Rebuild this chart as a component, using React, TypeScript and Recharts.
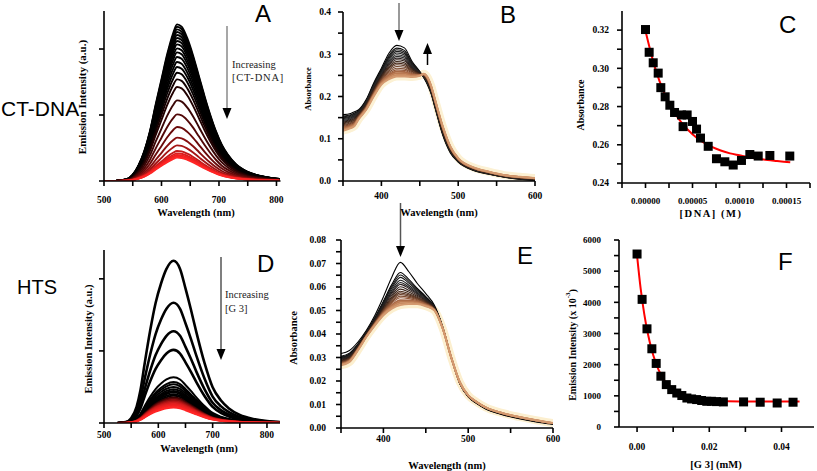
import React from 'react';
import { LineChart, Line, XAxis, YAxis, ComposedChart, Scatter } from 'recharts';

const SERIF = '"Liberation Serif", "Times New Roman", serif';
const SANS = '"Liberation Sans", Arial, sans-serif';

// ---------- Panel A : emission spectra, CT-DNA ----------
const aWavelengths = [500, 520, 540, 550, 560, 570, 580, 590, 600, 610, 620, 627, 635, 645, 655, 665, 675, 685, 695, 705, 715, 730, 750, 770, 790, 805];
const aShape = [0, 0.001, 0.012, 0.04, 0.1, 0.19, 0.32, 0.49, 0.65, 0.81, 0.94, 1.0, 0.985, 0.91, 0.8, 0.67, 0.54, 0.42, 0.315, 0.23, 0.17, 0.105, 0.058, 0.034, 0.02, 0.013];
const aPeaks = [2.374, 2.338, 2.298, 2.258, 2.212, 2.167, 2.121, 2.071, 2.01, 1.949, 1.879, 1.803, 1.727, 1.641, 1.54, 1.424, 1.222, 1.01, 0.818, 0.657, 0.54, 0.455, 0.419, 0.394, 0.374, 0.354];
const aColors = ['#000', '#000', '#000', '#000', '#000', '#000', '#000', '#000', '#000', '#000', '#000', '#000', '#000', '#050000', '#120000', '#220202', '#3a0606', '#520808', '#6a0b0b', '#861010', '#a51515', '#c41a1a', '#dc1e1e', '#ec2020', '#f62222', '#ff2626'];
const aXTicks = [500, 550, 600, 650, 700, 750, 800];
const aYTicks = [0, 1, 2];

// ---------- Panel B : absorbance, CT-DNA ----------
const bWavelengths = [350, 360, 365, 370, 380, 390, 400, 410, 420, 430, 440, 450, 455, 460, 465, 470, 480, 490, 500, 520, 540, 560, 580, 600];
const bFirst = [0.157, 0.16, 0.164, 0.168, 0.192, 0.232, 0.267, 0.303, 0.321, 0.315, 0.283, 0.259, 0.245, 0.228, 0.205, 0.172, 0.108, 0.066, 0.045, 0.025, 0.016, 0.009, 0.004, 0.002];
const bLast = [0.119, 0.125, 0.13, 0.145, 0.168, 0.2, 0.228, 0.241, 0.2475, 0.2475, 0.246, 0.249, 0.254, 0.246, 0.224, 0.192, 0.129, 0.081, 0.054, 0.032, 0.022, 0.014, 0.01, 0.007];
const bPeaks = [0.321, 0.3146, 0.3107, 0.3067, 0.3028, 0.2988, 0.2949, 0.2909, 0.287, 0.283, 0.279, 0.275, 0.271, 0.267, 0.263, 0.259, 0.255, 0.251, 0.2475];
const bColors = ['#000', '#111', '#161616', '#1c1c1c', '#222', '#262626', '#2a2a2a', '#2a2020', '#2e1e18', '#3a2418', '#4a2c1c', '#5a3522', '#6c4029', '#7e4c31', '#94593a', '#a86845', '#bb7a52', '#c98b61', '#d49a70'];
const bXTicks = [350, 400, 450, 500, 550, 600];
const bYTicks = [0, 0.05, 0.1, 0.15, 0.2, 0.25, 0.3, 0.35, 0.4];

// ---------- Panel C : absorbance vs [DNA] ----------
const cX = [0, 0.0000039, 0.0000082, 0.0000135, 0.0000163, 0.0000209, 0.0000259, 0.0000309, 0.00004, 0.0000383, 0.0000443, 0.00005, 0.0000543, 0.0000585, 0.0000667, 0.0000755, 0.0000844, 0.0000933, 0.0001021, 0.000111, 0.0001199, 0.0001323, 0.0001535];
const cY = [0.3203, 0.3084, 0.3029, 0.2975, 0.2899, 0.2851, 0.2807, 0.2769, 0.2695, 0.2756, 0.2756, 0.2722, 0.2682, 0.2635, 0.2592, 0.2527, 0.2511, 0.2494, 0.2518, 0.2549, 0.2541, 0.2544, 0.2541];
const cFitX = [0, 0.00001, 0.00002, 0.00003, 0.00004, 0.00005, 0.00006, 0.00007, 0.00008, 0.00009, 0.0001, 0.00011, 0.00012, 0.00013, 0.00014, 0.000154];
const cFitY = [0.3195, 0.3005, 0.287, 0.2775, 0.2705, 0.2655, 0.2617, 0.259, 0.257, 0.2555, 0.2545, 0.2535, 0.2527, 0.252, 0.2515, 0.2508];
const cXTicks = [-0.000025, 0, 0.000025, 0.00005, 0.000075, 0.0001, 0.000125, 0.00015, 0.000175];
const cXLabels = [0, 0.00005, 0.0001, 0.00015];
const cYTicks = [0.24, 0.25, 0.26, 0.27, 0.28, 0.29, 0.3, 0.31, 0.32];
const cYLabels = [0.24, 0.26, 0.28, 0.3, 0.32];

// ---------- Panel D : emission spectra, HTS ----------
const dWavelengths = [525, 540, 550, 560, 567, 575, 585, 595, 605, 615, 628, 640, 650, 660, 670, 685, 700, 715, 730, 750, 775, 800, 825];
const dShape = [0, 0.006, 0.03, 0.1, 0.2, 0.37, 0.57, 0.74, 0.86, 0.95, 1.0, 0.95, 0.83, 0.7, 0.56, 0.37, 0.22, 0.14, 0.09, 0.05, 0.025, 0.012, 0.006];
const dPeaks = [2.25, 1.668, 1.273, 1.014, 0.636, 0.568, 0.536, 0.5, 0.468, 0.445, 0.423, 0.4, 0.377, 0.355, 0.336, 0.318, 0.3, 0.282, 0.264, 0.245, 0.227, 0.214];
const dColors = ['#000', '#000', '#000', '#000', '#000', '#000', '#000', '#000', '#000', '#000', '#000', '#000', '#000', '#300', '#5a0808', '#8a0e0e', '#b01414', '#cc1a1a', '#e01e1e', '#ee2020', '#f82222', '#ff2626'];
const dXTicks = [500, 550, 600, 650, 700, 750, 800];
const dYTicks = [0, 1, 2];

// ---------- Panel E : absorbance, HTS ----------
const eWavelengths = [350, 360, 370, 380, 390, 400, 410, 420, 430, 440, 450, 460, 470, 480, 490, 500, 510, 520, 540, 560, 580, 600];
const eFirst = [0.0317, 0.033, 0.0366, 0.0416, 0.048, 0.0558, 0.0643, 0.0705, 0.0665, 0.0615, 0.0572, 0.0523, 0.043, 0.03, 0.0189, 0.0132, 0.0104, 0.0082, 0.0057, 0.004, 0.0026, 0.0016];
const eLast = [0.0267, 0.0281, 0.0331, 0.0388, 0.0437, 0.048, 0.0508, 0.0523, 0.0527, 0.0527, 0.0518, 0.0501, 0.0423, 0.03, 0.0196, 0.0139, 0.0111, 0.0089, 0.0064, 0.0047, 0.0033, 0.0021];
const ePeaks = [0.0705, 0.0662, 0.0651, 0.0641, 0.0629, 0.0619, 0.0611, 0.0601, 0.0591, 0.0582, 0.0575, 0.0568, 0.0561, 0.0554, 0.0544, 0.0537, 0.053, 0.0523];
const eColors = ['#000', '#000', '#111', '#161616', '#1c1c1c', '#222', '#2a2020', '#2e1e18', '#3a2418', '#4a2c1c', '#5a3522', '#6c4029', '#7e4c31', '#94593a', '#a86845', '#bb7a52', '#c98b61', '#d49a70'];
const eXTicks = [350, 400, 450, 500, 550, 600];
const eYTicks = [0, 0.005, 0.01, 0.015, 0.02, 0.025, 0.03, 0.035, 0.04, 0.045, 0.05, 0.055, 0.06, 0.065, 0.07, 0.075, 0.08];

// ---------- Panel F : emission vs [G3] ----------
const fX = [0, 0.0014, 0.00275, 0.0041, 0.0053, 0.0066, 0.0081, 0.0096, 0.011, 0.0124, 0.0138, 0.0151, 0.0165, 0.0179, 0.0193, 0.0206, 0.022, 0.0239, 0.0295, 0.0341, 0.0388, 0.0432];
const fY = [5550, 4095, 3150, 2510, 2040, 1630, 1360, 1200, 1090, 1010, 930, 900, 880, 850, 825, 825, 815, 805, 805, 795, 770, 795];
const fFitX = [0, 0.001, 0.002, 0.003, 0.004, 0.005, 0.006, 0.007, 0.008, 0.009, 0.01, 0.012, 0.014, 0.016, 0.018, 0.02, 0.025, 0.03, 0.035, 0.04, 0.045];
const fFitY = [5500, 4440, 3620, 2990, 2500, 2120, 1825, 1600, 1420, 1285, 1180, 1035, 950, 897, 866, 848, 828, 822, 821, 820, 820];
const fXTicks = [0, 0.01, 0.02, 0.03, 0.04];
const fXLabels = [0, 0.02, 0.04];
const fYTicks = [0, 500, 1000, 1500, 2000, 2500, 3000, 3500, 4000, 4500, 5000, 5500, 6000];

// ---------- helpers ----------
const YW = 50, XH = 30, MT = 6, MR = 12;
const axisLineStyle = { stroke: '#000', strokeWidth: 1.6 };
const tickFont = { fontSize: 9.5, fontFamily: SERIF, fontWeight: 700, fill: '#000' };

function scaledRows(xs: number[], shape: number[], peaks: number[]) {
  return xs.map((w, i) => {
    const row: Record<string, number> = { x: w };
    peaks.forEach((p, j) => { row['c' + j] = shape[i] * p; });
    return row;
  });
}

function mixedRows(xs: number[], first: number[], last: number[], peaks: number[], refIdx: number) {
  const hi = first[refIdx], lo = last[refIdx];
  return xs.map((w, i) => {
    const row: Record<string, number> = { x: w, glow: last[i] };
    peaks.forEach((p, j) => {
      const f = (hi - p) / (hi - lo);
      row['c' + j] = first[i] * (1 - f) + last[i] * f;
    });
    return row;
  });
}

function near(v: number, list: number[]) {
  return list.some((l) => Math.abs(l - v) < 1e-9);
}

type PanelProps = { l: number; t: number; r: number; b: number; children: (w: number, h: number) => React.ReactNode };
function Panel({ l, t, r, b, children }: PanelProps) {
  const w = r - l + YW + MR;
  const h = b - t + MT + XH;
  return <div style={{ position: 'absolute', left: l - YW, top: t - MT, width: w, height: h }}>{children(w, h)}</div>;
}

const margin = { top: MT, right: MR, left: 0, bottom: 0 };

const aRows = scaledRows(aWavelengths, aShape, aPeaks);
const dRows = scaledRows(dWavelengths, dShape, dPeaks);
const bRows = mixedRows(bWavelengths, bFirst, bLast, bPeaks, 8);
const eRows = mixedRows(eWavelengths, eFirst, eLast, ePeaks, 7);
const cPoints = cX.map((x, i) => ({ x, y: cY[i] }));
const cFit = cFitX.map((x, i) => ({ x, y: cFitY[i] }));
const fPoints = fX.map((x, i) => ({ x, y: fY[i] }));
const fFit = fFitX.map((x, i) => ({ x, y: fFitY[i] }));

const square = (size: number) => (props: any) => (
  <rect x={props.cx - size / 2} y={props.cy - size / 2} width={size} height={size} fill="#000" />
);

function Arrow({ x, y1, y2, line, up }: { x: number; y1: number; y2: number; line: string; up?: boolean }) {
  const hl = 11, hw = 4.5;
  if (up) {
    return (
      <g>
        <line x1={x} y1={y1} x2={x} y2={y2 + hl} stroke={line} strokeWidth={1.5} />
        <polygon points={`${x - hw},${y2 + hl} ${x + hw},${y2 + hl} ${x},${y2}`} fill="#000" />
      </g>
    );
  }
  return (
    <g>
      <line x1={x} y1={y1} x2={x} y2={y2 - hl} stroke={line} strokeWidth={1.5} />
      <polygon points={`${x - hw},${y2 - hl} ${x + hw},${y2 - hl} ${x},${y2}`} fill="#000" />
    </g>
  );
}

function YTitle({ x, y, size, children }: { x: number; y: number; size: number; children: React.ReactNode }) {
  return (
    <text x={x} y={y} transform={`rotate(-90 ${x} ${y})`} textAnchor="middle" dominantBaseline="central" fontFamily={SERIF} fontWeight={700} fontSize={size} fill="#000">
      {children}
    </text>
  );
}

function XTitle({ x, y, size, spacing, children }: { x: number; y: number; size: number; spacing?: number; children: React.ReactNode }) {
  return (
    <text x={x} y={y} textAnchor="middle" dominantBaseline="central" fontFamily={SERIF} fontWeight={700} fontSize={size} letterSpacing={spacing || 0} fill="#000">
      {children}
    </text>
  );
}

export default function App() {
  return (
    <div style={{ position: 'absolute', left: 0, top: 0, width: 817, height: 471, overflow: 'hidden', background: '#fff' }}>
      {/* A */}
      <Panel l={103.5} t={11} r={280} b={181}>
        {(w, h) => (
          <LineChart width={w} height={h} data={aRows} margin={margin}>
            <XAxis type="number" dataKey="x" domain={[500, 807]} ticks={aXTicks} interval={0} allowDataOverflow height={XH}
              tickFormatter={(v: number) => (v % 100 === 0 ? String(v) : '')} tickSize={5} tickMargin={10}
              axisLine={axisLineStyle} tickLine={axisLineStyle} tick={tickFont} />
            <YAxis type="number" domain={[0, 2.576]} ticks={aYTicks} interval={0} allowDataOverflow width={YW}
              tickFormatter={() => ''} tickSize={5} axisLine={axisLineStyle} tickLine={axisLineStyle} tick={tickFont} />
            {aPeaks.map((_, j) => (
              <Line key={j} dataKey={'c' + j} type="monotone" stroke={aColors[j]} strokeWidth={1.9} dot={false} isAnimationActive={false} />
            ))}
          </LineChart>
        )}
      </Panel>

      {/* B */}
      <Panel l={343} t={12} r={535} b={181}>
        {(w, h) => (
          <LineChart width={w} height={h} data={bRows} margin={margin}>
            <XAxis type="number" dataKey="x" domain={[350, 600]} ticks={bXTicks} interval={0} allowDataOverflow height={XH}
              tickFormatter={(v: number) => (v % 100 === 0 ? String(v) : '')} tickSize={5} tickMargin={6}
              axisLine={axisLineStyle} tickLine={axisLineStyle} tick={tickFont} />
            <YAxis type="number" domain={[0, 0.4]} ticks={bYTicks} interval={0} allowDataOverflow width={YW}
              tickFormatter={(v: number) => (near(v, [0, 0.1, 0.2, 0.3, 0.4]) ? v.toFixed(1) : '')} tickSize={5} tickMargin={7}
              axisLine={axisLineStyle} tickLine={axisLineStyle} tick={tickFont} />
            <Line dataKey="glow" type="monotone" stroke="#fcf1d4" strokeWidth={8} dot={false} isAnimationActive={false} />
            {bPeaks.map((_, j) => (
              <Line key={j} dataKey={'c' + j} type="monotone" stroke={bColors[j]} strokeWidth={j > 14 ? 1.9 : 1.1} dot={false} isAnimationActive={false} />
            ))}
          </LineChart>
        )}
      </Panel>

      {/* C */}
      <Panel l={622} t={11} r={810} b={183}>
        {(w, h) => (
          <ComposedChart width={w} height={h} margin={margin}>
            <XAxis type="number" dataKey="x" domain={[-0.000025, 0.000175]} ticks={cXTicks} interval={0} allowDataOverflow height={XH}
              tickFormatter={(v: number) => (near(v, cXLabels) ? v.toFixed(5) : '')} tickSize={5} tickMargin={10}
              axisLine={axisLineStyle} tickLine={axisLineStyle} tick={{ ...tickFont, fontSize: 9 }} />
            <YAxis type="number" dataKey="y" domain={[0.24, 0.33]} ticks={cYTicks} interval={0} allowDataOverflow width={YW}
              tickFormatter={(v: number) => (near(v, cYLabels) ? v.toFixed(2) : '')} tickSize={5} tickMargin={8}
              axisLine={axisLineStyle} tickLine={axisLineStyle} tick={tickFont} />
            <Scatter data={cPoints} dataKey="y" shape={square(9)} isAnimationActive={false} />
            <Line data={cFit} dataKey="y" type="monotone" stroke="#ff0000" strokeWidth={2} dot={false} isAnimationActive={false} />
          </ComposedChart>
        )}
      </Panel>

      {/* D */}
      <Panel l={104} t={250} r={280} b={423}>
        {(w, h) => (
          <LineChart width={w} height={h} data={dRows} margin={margin}>
            <XAxis type="number" dataKey="x" domain={[500, 824]} ticks={dXTicks} interval={0} allowDataOverflow height={XH}
              tickFormatter={(v: number) => (v % 100 === 0 ? String(v) : '')} tickSize={5} tickMargin={3}
              axisLine={axisLineStyle} tickLine={axisLineStyle} tick={tickFont} />
            <YAxis type="number" domain={[0, 2.4]} ticks={dYTicks} interval={0} allowDataOverflow width={YW}
              tickFormatter={() => ''} tickSize={5} axisLine={axisLineStyle} tickLine={axisLineStyle} tick={tickFont} />
            {dPeaks.map((_, j) => (
              <Line key={j} dataKey={'c' + j} type="monotone" stroke={dColors[j]} strokeWidth={j < 4 ? 2.6 : 2} dot={false} isAnimationActive={false} />
            ))}
          </LineChart>
        )}
      </Panel>

      {/* E */}
      <Panel l={341} t={240} r={553} b={428}>
        {(w, h) => (
          <LineChart width={w} height={h} data={eRows} margin={margin}>
            <XAxis type="number" dataKey="x" domain={[350, 600]} ticks={eXTicks} interval={0} allowDataOverflow height={XH}
              tickFormatter={(v: number) => (v % 100 === 0 ? String(v) : '')} tickSize={5} tickMargin={2}
              axisLine={axisLineStyle} tickLine={axisLineStyle} tick={tickFont} />
            <YAxis type="number" domain={[0, 0.08]} ticks={eYTicks} interval={0} allowDataOverflow width={YW}
              tickFormatter={(v: number) => (near(v, [0, 0.01, 0.02, 0.03, 0.04, 0.05, 0.06, 0.07, 0.08]) ? v.toFixed(2) : '')} tickSize={5} tickMargin={10}
              axisLine={axisLineStyle} tickLine={axisLineStyle} tick={tickFont} />
            <Line dataKey="glow" type="monotone" stroke="#fcefcf" strokeWidth={8} dot={false} isAnimationActive={false} />
            {ePeaks.map((_, j) => (
              <Line key={j} dataKey={'c' + j} type="monotone" stroke={eColors[j]} strokeWidth={j > 13 ? 1.9 : 1.1} dot={false} isAnimationActive={false} />
            ))}
          </LineChart>
        )}
      </Panel>

      {/* F */}
      <Panel l={619} t={240} r={814} b={427}>
        {(w, h) => (
          <ComposedChart width={w} height={h} margin={margin}>
            <XAxis type="number" dataKey="x" domain={[-0.005, 0.049]} ticks={fXTicks} interval={0} allowDataOverflow height={XH}
              tickFormatter={(v: number) => (near(v, fXLabels) ? v.toFixed(2) : '')} tickSize={5} tickMargin={11}
              axisLine={axisLineStyle} tickLine={axisLineStyle} tick={tickFont} />
            <YAxis type="number" dataKey="y" domain={[0, 6000]} ticks={fYTicks} interval={0} allowDataOverflow width={YW}
              tickFormatter={(v: number) => (v % 1000 === 0 ? String(v) : '')} tickSize={5} tickMargin={13}
              axisLine={axisLineStyle} tickLine={axisLineStyle} tick={{ ...tickFont, fontSize: 9 }} />
            <Scatter data={fPoints} dataKey="y" shape={square(9)} isAnimationActive={false} />
            <Line data={fFit} dataKey="y" type="monotone" stroke="#ff0000" strokeWidth={2} dot={false} isAnimationActive={false} />
          </ComposedChart>
        )}
      </Panel>

      {/* annotations */}
      <svg width={817} height={471} style={{ position: 'absolute', left: 0, top: 0, pointerEvents: 'none' }}>
        <text x={1} y={116} fontFamily={SANS} fontSize={21} fill="#000">CT-DNA</text>
        <text x={17} y={294} fontFamily={SANS} fontSize={20} fill="#000">HTS</text>

        <text x={255} y={22} fontFamily={SANS} fontSize={24} fill="#000">A</text>
        <text x={500} y={23} fontFamily={SANS} fontSize={24} fill="#000">B</text>
        <text x={779} y={33} fontFamily={SANS} fontSize={24} fill="#000">C</text>
        <text x={257} y={272} fontFamily={SANS} fontSize={24} fill="#000">D</text>
        <text x={517} y={264} fontFamily={SANS} fontSize={24} fill="#000">E</text>
        <text x={778} y={270} fontFamily={SANS} fontSize={24} fill="#000">F</text>

        <text x={232} y={68} fontFamily={SERIF} fontSize={10.5} fill="#222">Increasing</text>
        <text x={232} y={81} fontFamily={SERIF} fontSize={10.5} letterSpacing={0.8} fill="#222">[CT-DNA]</text>
        <text x={225} y={298} fontFamily={SERIF} fontSize={10.5} fill="#222">Increasing</text>
        <text x={225} y={312} fontFamily={SERIF} fontSize={10.5} fill="#222">[G 3]</text>

        <Arrow x={227} y1={26} y2={119} line="#8a8a8a" />
        <Arrow x={399} y1={3} y2={41} line="#777" />
        <Arrow x={427.5} y1={65} y2={43} line="#000" up />
        <Arrow x={221} y1={257} y2={360} line="#555" />
        <Arrow x={400.5} y1={203} y2={257} line="#555" />

        <YTitle x={82} y={97} size={11}>Emission Intensity (a.u.)</YTitle>
        <XTitle x={196} y={212} size={10.5}>Wavelength (nm)</XTitle>
        <YTitle x={308} y={89} size={8.5}>Absorbance</YTitle>
        <XTitle x={439} y={212} size={10.5}>Wavelength (nm)</XTitle>
        <YTitle x={580} y={105} size={10}>Absorbance</YTitle>
        <XTitle x={711} y={213} size={10.5} spacing={1.5}>[DNA] (M)</XTitle>
        <YTitle x={88} y={339} size={10.5}>Emission Intensity (a.u.)</YTitle>
        <XTitle x={199} y={448} size={10.5}>Wavelength (nm)</XTitle>
        <YTitle x={293} y={338} size={10.5}>Absorbance</YTitle>
        <XTitle x={447} y={465} size={10.5}>Wavelength (nm)</XTitle>
        <YTitle x={572} y={345} size={10}>
          Emission Intensity (x 10<tspan dy={-4} fontSize={7}>-3</tspan><tspan dy={4}>)</tspan>
        </YTitle>
        <XTitle x={716} y={464} size={10.5}>[G 3] (mM)</XTitle>
      </svg>
    </div>
  );
}
